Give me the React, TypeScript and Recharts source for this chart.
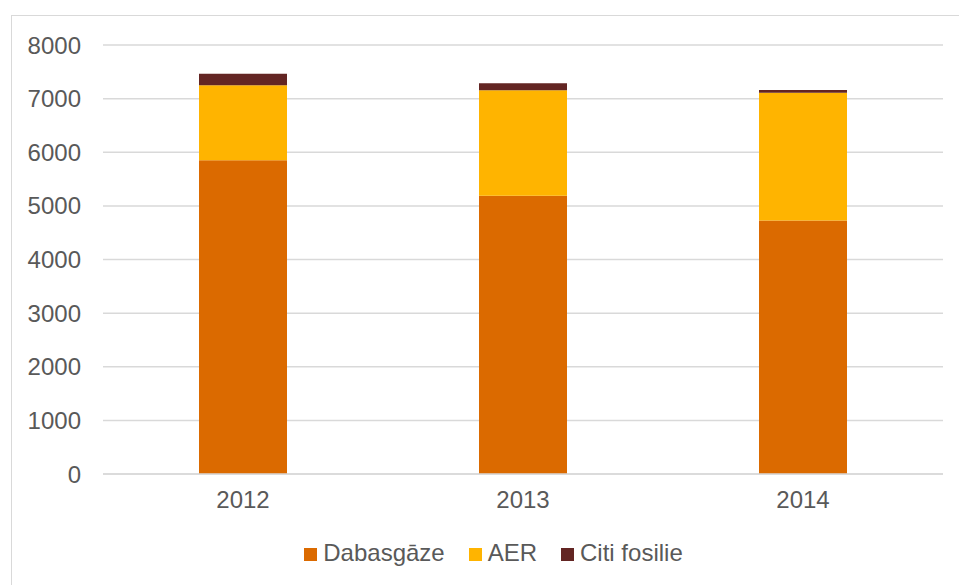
import { BarChart, Bar, XAxis, YAxis, CartesianGrid, Legend } from 'recharts'

const years = ['2012', '2013', '2014']
const dabasgaze = [5850, 5190, 4725]
const aer = [1400, 1965, 2385]
const citiFosilie = [215, 130, 50]
const yTicks = [0, 1000, 2000, 3000, 4000, 5000, 6000, 7000, 8000]
const seriesOrder = ['Dabasgāze', 'AER', 'Citi fosilie']

const data = years.map((year, i) => ({
  year,
  Dabasgāze: dabasgaze[i],
  AER: aer[i],
  'Citi fosilie': citiFosilie[i],
}))

const font = '"Liberation Sans", Arial, sans-serif'
const textColor = '#595959'

export default function App() {
  return (
    <div style={{ position: 'absolute', left: 0, top: 0, width: 959, height: 585, background: '#fff', overflow: 'hidden', fontFamily: font }}>
      {/* chart frame */}
      <div style={{ position: 'absolute', left: 11, top: 15, width: 960, height: 600, border: '1px solid #D9D9D9' }} />
      <div style={{ position: 'absolute', left: 0, top: 0 }}>
        <BarChart width={959} height={585} data={data} margin={{ top: 45, right: 16, left: 0, bottom: 18 }}>
          <CartesianGrid vertical={false} stroke="#D9D9D9" strokeWidth={1.5} />
          <XAxis
            dataKey="year"
            height={65}
            tickLine={false}
            tickSize={0}
            tickMargin={17}
            axisLine={{ stroke: '#D9D9D9', strokeWidth: 1.5 }}
            tick={{ fill: textColor, fontSize: 24, fontFamily: font }}
          />
          <YAxis
            width={103}
            domain={[0, 8000]}
            ticks={yTicks}
            axisLine={false}
            tickLine={false}
            tickSize={0}
            tickMargin={22}
            tick={{ fill: textColor, fontSize: 24, fontFamily: font }}
          />
          <Legend
            verticalAlign="bottom"
            iconType="square"
            iconSize={13}
            itemSorter={(item: any) => seriesOrder.indexOf(item.value)}
            wrapperStyle={{ fontSize: 24, fontFamily: font, paddingLeft: 68, boxSizing: 'border-box' }}
            formatter={(value) => <span style={{ color: textColor, marginLeft: 2, marginRight: 14 }}>{value}</span>}
          />
          <Bar dataKey="Dabasgāze" stackId="a" fill="#DB6A00" barSize={88} isAnimationActive={false} />
          <Bar dataKey="AER" stackId="a" fill="#FFB400" barSize={88} isAnimationActive={false} />
          <Bar dataKey="Citi fosilie" stackId="a" fill="#632523" barSize={88} isAnimationActive={false} />
        </BarChart>
      </div>
    </div>
  )
}
